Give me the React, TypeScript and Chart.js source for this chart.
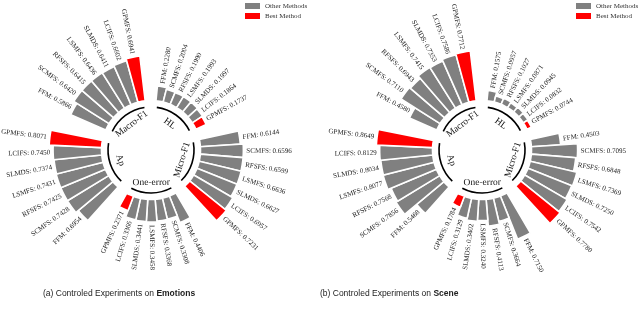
import React, { useEffect, useRef } from 'react';
import { Chart, registerables } from 'chart.js';

Chart.register(...registerables);

// ---- data ----
const methods = ['FFM', 'SCMFS', 'RFSFS', 'LSMFS', 'SLMDS', 'LCIFS', 'GPMFS'];
// order of the groups clockwise, starting near 12 o'clock
const ringOrder = ['HL', 'Micro-F1', 'One-error', 'Ap', 'Macro-F1'];
const bestIndex = 6;

const emotionsMacroF1 = [0.5866, 0.642, 0.6415, 0.6436, 0.6411, 0.6602, 0.6941];
const emotionsHL = [0.228, 0.2004, 0.199, 0.1993, 0.1997, 0.1864, 0.1737];
const emotionsMicroF1 = [0.6144, 0.6596, 0.6599, 0.6636, 0.6627, 0.6957, 0.7231];
const emotionsOneError = [0.4406, 0.3308, 0.3368, 0.3458, 0.3441, 0.3366, 0.2371];
const emotionsAP = [0.6954, 0.7428, 0.7425, 0.7431, 0.7374, 0.745, 0.8071];

const sceneMacroF1 = [0.458, 0.711, 0.6943, 0.7415, 0.7353, 0.7586, 0.7712];
const sceneHL = [0.1575, 0.0957, 0.1027, 0.0871, 0.0945, 0.0832, 0.0744];
const sceneMicroF1 = [0.4503, 0.7095, 0.6848, 0.7369, 0.725, 0.7542, 0.778];
const sceneOneError = [0.715, 0.3664, 0.4113, 0.324, 0.3402, 0.3129, 0.1784];
const sceneAP = [0.5468, 0.7856, 0.7568, 0.8077, 0.8034, 0.8129, 0.8649];

const legendLabels = ['Other Methods', 'Best Method'];

// ---- style ----
const GRAY = '#808080';
const RED = '#ff0000';
const BAR_DEG = 8.5;
const GAP_DEG = 12.5;
const START_DEG = 5.75;
const INNER = 49.5; // px where value 0 sits
const UNIT = 65; // px per 1.0
const CANVAS_W = 320;
const CANVAS_H = 300;
const AREA = Math.floor(Math.min(CANVAS_W, CANVAS_H) / 2);
const R_MIN = -INNER / UNIT;
const R_MAX = (AREA - INNER) / UNIT;
const SERIF = '"Liberation Serif", "DejaVu Serif", serif';
const SANS = '"Liberation Sans", Arial, sans-serif';

type Group = { name: string; values: number[] };

function RadialBars({ groups, centerX }: { groups: Group[]; centerX: number }) {
  const ref = useRef<HTMLCanvasElement>(null);
  useEffect(() => {
    const values: number[] = [];
    const labels: string[] = [];
    const colors: string[] = [];
    const isGap: boolean[] = [];
    groups.forEach((g) => {
      g.values.forEach((v, i) => {
        values.push(v);
        labels.push(methods[i]);
        colors.push(i === bestIndex ? RED : GRAY);
        isGap.push(false);
      });
      values.push(0);
      labels.push('');
      colors.push('rgba(0,0,0,0)');
      isGap.push(true);
    });

    const ringPlugin = {
      id: 'ring',
      afterDatasetsUpdate(chart: any) {
        const scale = chart.scales.r;
        const inner = scale.getDistanceFromCenterForValue(0);
        chart.getDatasetMeta(0).data.forEach((el: any) => {
          el.innerRadius = inner;
        });
      },
      afterDatasetsDraw(chart: any) {
        const ctx = chart.ctx;
        const scale = chart.scales.r;
        const inner = scale.getDistanceFromCenterForValue(0);
        const els = chart.getDatasetMeta(0).data;
        const norm = (a: number) => ((a % (2 * Math.PI)) + 2 * Math.PI) % (2 * Math.PI);
        ctx.save();
        // bar value labels
        ctx.font = '7px ' + SERIF;
        ctx.fillStyle = '#222';
        ctx.textBaseline = 'middle';
        els.forEach((el: any, i: number) => {
          if (isGap[i]) return;
          const mid = (el.startAngle + el.endAngle) / 2;
          const r = el.outerRadius + 3;
          const x = el.x + r * Math.cos(mid);
          const y = el.y + r * Math.sin(mid);
          const n = norm(mid);
          const right = n < Math.PI / 2 || n > (3 * Math.PI) / 2;
          ctx.save();
          ctx.translate(x, y);
          if (right) {
            ctx.rotate(mid);
            ctx.textAlign = 'left';
          } else {
            ctx.rotate(mid + Math.PI);
            ctx.textAlign = 'right';
          }
          ctx.fillText(labels[i] + ': ' + values[i].toFixed(4), 0, 0);
          ctx.restore();
        });
        // group arcs and names
        groups.forEach((g, gi) => {
          const first = els[gi * 8];
          const last = els[gi * 8 + 6];
          const a0 = first.startAngle;
          const a1 = last.endAngle;
          const pad = (2 * Math.PI) / 180;
          ctx.beginPath();
          ctx.strokeStyle = '#000';
          ctx.lineWidth = 1.6;
          ctx.arc(first.x, first.y, inner - 6.5, a0 + pad, a1 - pad);
          ctx.stroke();
          const mid = (a0 + a1) / 2;
          const rr = inner - 17;
          const x = first.x + rr * Math.cos(mid);
          const y = first.y + rr * Math.sin(mid);
          const n = norm(mid);
          ctx.save();
          ctx.translate(x, y);
          if (n > 0 && n < Math.PI) ctx.rotate(mid - Math.PI / 2);
          else ctx.rotate(mid + Math.PI / 2);
          ctx.font = '9.5px ' + SERIF;
          ctx.fillStyle = '#111';
          ctx.textAlign = 'center';
          ctx.textBaseline = 'middle';
          ctx.fillText(g.name, 0, 0);
          ctx.restore();
        });
        ctx.restore();
      },
    };

    const chart = new Chart(ref.current as HTMLCanvasElement, {
      type: 'polarArea',
      data: {
        labels,
        datasets: [
          {
            data: values,
            backgroundColor: colors,
            borderColor: '#ffffff',
            borderWidth: (c: any) => (isGap[c.dataIndex] ? 0 : 1.6),
            angle: (c: any) => (isGap[c.dataIndex] ? GAP_DEG : BAR_DEG),
          } as any,
        ],
      },
      options: {
        responsive: false,
        animation: false,
        events: [],
        layout: { padding: 0 },
        plugins: { legend: { display: false }, tooltip: { enabled: false } },
        scales: {
          r: {
            min: R_MIN,
            max: R_MAX,
            startAngle: START_DEG,
            grid: { display: false },
            angleLines: { display: false },
            ticks: { display: false },
            pointLabels: { display: false },
          },
        },
      } as any,
      plugins: [ringPlugin],
    });
    return () => chart.destroy();
  }, []);
  return (
    <canvas
      ref={ref}
      width={CANVAS_W}
      height={CANVAS_H}
      style={{ position: 'absolute', left: centerX - CANVAS_W / 2, top: 0, width: CANVAS_W, height: CANVAS_H }}
    />
  );
}

function Legend({ left }: { left: number }) {
  const row = (color: string, text: string) => (
    <div style={{ display: 'flex', alignItems: 'center', height: 10, whiteSpace: 'nowrap' }}>
      <span style={{ display: 'inline-block', width: 15, height: 6, background: color, marginRight: 5 }} />
      <span>{text}</span>
    </div>
  );
  return (
    <div style={{ position: 'absolute', left, top: 1, fontFamily: SERIF, fontSize: 7, color: '#333', lineHeight: '10px' }}>
      {row(GRAY, legendLabels[0])}
      {row(RED, legendLabels[1])}
    </div>
  );
}

function buildGroups(m: Record<string, number[]>): Group[] {
  return ringOrder.map((name) => ({ name, values: m[name] }));
}

export default function App() {
  const emotions = buildGroups({
    'Macro-F1': emotionsMacroF1,
    HL: emotionsHL,
    'Micro-F1': emotionsMicroF1,
    'One-error': emotionsOneError,
    Ap: emotionsAP,
  });
  const scene = buildGroups({
    'Macro-F1': sceneMacroF1,
    HL: sceneHL,
    'Micro-F1': sceneMicroF1,
    'One-error': sceneOneError,
    Ap: sceneAP,
  });
  const caption: React.CSSProperties = {
    position: 'absolute',
    top: 288,
    fontFamily: SANS,
    fontSize: 8.5,
    lineHeight: '10px',
    color: '#222',
    whiteSpace: 'nowrap',
  };
  return (
    <div style={{ position: 'fixed', left: 0, top: 0, width: 640, height: 310, background: '#fff', overflow: 'hidden' }}>
      <RadialBars groups={emotions} centerX={151} />
      <RadialBars groups={scene} centerX={482} />
      <Legend left={245} />
      <Legend left={576} />
      <div style={{ ...caption, left: 43 }}>
        (a) Controled Experiments on <b>Emotions</b>
      </div>
      <div style={{ ...caption, left: 320 }}>
        (b) Controled Experiments on <b>Scene</b>
      </div>
    </div>
  );
}
